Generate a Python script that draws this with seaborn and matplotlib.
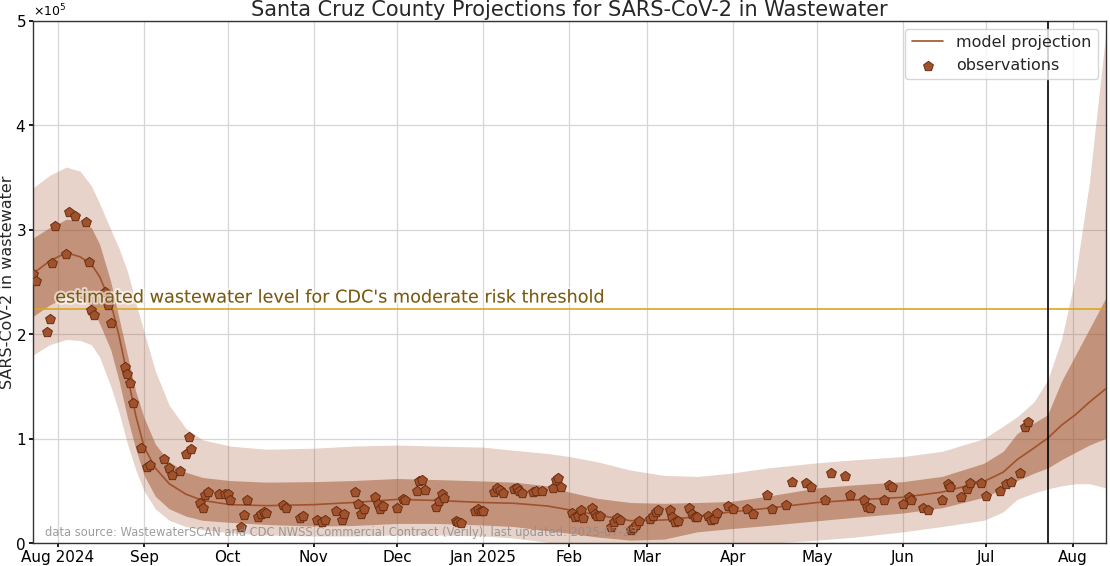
import numpy as np
import pandas as pd
import matplotlib
matplotlib.use("Agg")
import matplotlib.pyplot as plt
import matplotlib.patheffects as pe
import seaborn as sns

SCALE = 1e5

# ---- model projection knots (values in units of 1e5) ----
knot_dates = ["2024-07-23", "2024-07-29", "2024-08-04", "2024-08-09", "2024-08-13",
              "2024-08-16", "2024-08-20", "2024-08-23", "2024-08-26", "2024-08-29",
              "2024-09-01", "2024-09-05", "2024-09-10", "2024-09-16", "2024-09-22",
              "2024-10-02", "2024-10-15", "2024-11-01", "2024-11-15", "2024-12-01",
              "2024-12-15", "2025-01-01", "2025-01-12", "2025-01-24", "2025-02-01",
              "2025-02-11", "2025-02-23", "2025-03-07", "2025-03-19", "2025-03-31",
              "2025-04-13", "2025-05-01", "2025-05-15", "2025-06-01", "2025-06-15",
              "2025-06-30", "2025-07-07", "2025-07-12", "2025-07-18", "2025-07-23",
              "2025-07-28", "2025-08-02", "2025-08-07", "2025-08-13"]
model_mid = [2.58, 2.70, 2.78, 2.74, 2.67, 2.55, 2.30, 1.98, 1.60, 1.22,
             0.92, 0.72, 0.57, 0.47, 0.41, 0.37, 0.36, 0.37, 0.39, 0.42,
             0.41, 0.39, 0.383, 0.357, 0.32, 0.27, 0.216, 0.223, 0.255, 0.30,
             0.335, 0.39, 0.415, 0.44, 0.49, 0.59, 0.68, 0.80, 0.91, 1.005,
             1.13, 1.23, 1.35, 1.48]
model_lo50 = [2.17, 2.28, 2.36, 2.34, 2.27, 2.10, 1.85, 1.55, 1.20, 0.90,
              0.65, 0.45, 0.33, 0.26, 0.22, 0.20, 0.18, 0.165, 0.17, 0.19,
              0.19, 0.175, 0.16, 0.12, 0.096, 0.06, 0.03, 0.04, 0.11, 0.14,
              0.17, 0.215, 0.25, 0.29, 0.34, 0.44, 0.52, 0.60, 0.67, 0.72,
              0.80, 0.87, 0.94, 1.005]
model_hi50 = [2.92, 3.02, 3.10, 3.09, 3.02, 2.86, 2.50, 2.15, 1.80, 1.45,
              1.20, 0.95, 0.78, 0.68, 0.63, 0.60, 0.585, 0.59, 0.60, 0.62,
              0.61, 0.596, 0.585, 0.55, 0.49, 0.43, 0.39, 0.383, 0.39, 0.40,
              0.45, 0.53, 0.56, 0.59, 0.64, 0.765, 0.88, 1.05, 1.15, 1.23,
              1.55, 1.80, 2.05, 2.35]
model_lo95 = [1.80, 1.90, 1.95, 1.94, 1.90, 1.78, 1.50, 1.25, 0.95, 0.70,
              0.50, 0.33, 0.22, 0.16, 0.13, 0.10, 0.08, 0.07, 0.07, 0.08,
              0.08, 0.07, 0.05, 0.01, -0.03, -0.08, -0.12, -0.11, -0.07, -0.03,
              0.0, 0.03, 0.06, 0.11, 0.16, 0.22, 0.30, 0.42, 0.48, 0.52,
              0.55, 0.57, 0.57, 0.53]
model_hi95 = [3.40, 3.52, 3.60, 3.56, 3.42, 3.25, 3.00, 2.82, 2.60, 2.30,
              2.02, 1.65, 1.32, 1.10, 0.99, 0.93, 0.90, 0.91, 0.93, 0.94,
              0.93, 0.92, 0.89, 0.86, 0.83, 0.78, 0.70, 0.65, 0.64, 0.67,
              0.72, 0.77, 0.80, 0.83, 0.88, 1.00, 1.12, 1.21, 1.35, 1.56,
              1.95, 2.55, 3.45, 4.90]

# ---- observations (values in units of 1e5) ----
obs_dates = ["2024-07-23", "2024-07-24", "2024-07-28", "2024-07-29", "2024-07-30",
             "2024-07-31", "2024-08-04", "2024-08-05", "2024-08-07", "2024-08-11",
             "2024-08-12", "2024-08-13", "2024-08-14", "2024-08-18", "2024-08-19",
             "2024-08-20", "2024-08-25", "2024-08-26", "2024-08-27", "2024-08-28",
             "2024-08-31", "2024-09-02", "2024-09-03", "2024-09-08", "2024-09-10",
             "2024-09-11", "2024-09-14", "2024-09-16", "2024-09-17", "2024-09-18",
             "2024-09-21", "2024-09-22", "2024-09-23", "2024-09-24", "2024-09-28",
             "2024-09-30", "2024-10-01", "2024-10-02", "2024-10-06", "2024-10-07",
             "2024-10-08", "2024-10-12", "2024-10-13", "2024-10-14", "2024-10-15",
             "2024-10-21", "2024-10-22", "2024-10-27", "2024-10-28", "2024-11-02",
             "2024-11-04", "2024-11-05", "2024-11-09", "2024-11-11", "2024-11-12",
             "2024-11-16", "2024-11-17", "2024-11-18", "2024-11-19", "2024-11-23",
             "2024-11-24", "2024-11-25", "2024-11-26", "2024-12-01", "2024-12-03",
             "2024-12-04", "2024-12-08", "2024-12-09", "2024-12-10", "2024-12-11",
             "2024-12-15", "2024-12-16", "2024-12-17", "2024-12-18", "2024-12-22",
             "2024-12-23", "2024-12-24", "2024-12-29", "2024-12-30", "2024-12-31",
             "2025-01-01", "2025-01-05", "2025-01-06", "2025-01-07", "2025-01-08",
             "2025-01-12", "2025-01-13", "2025-01-14", "2025-01-15", "2025-01-19",
             "2025-01-20", "2025-01-22", "2025-01-26", "2025-01-27", "2025-01-28",
             "2025-01-29", "2025-02-02", "2025-02-03", "2025-02-04", "2025-02-05",
             "2025-02-06", "2025-02-09", "2025-02-10", "2025-02-11", "2025-02-12",
             "2025-02-16", "2025-02-17", "2025-02-18", "2025-02-19", "2025-02-23",
             "2025-02-24", "2025-02-25", "2025-02-26", "2025-03-02", "2025-03-03",
             "2025-03-04", "2025-03-05", "2025-03-09", "2025-03-10", "2025-03-11",
             "2025-03-12", "2025-03-16", "2025-03-17", "2025-03-18", "2025-03-19",
             "2025-03-23", "2025-03-24", "2025-03-25", "2025-03-26", "2025-03-30",
             "2025-04-01", "2025-04-06", "2025-04-08", "2025-04-13", "2025-04-15",
             "2025-04-20", "2025-04-22", "2025-04-27", "2025-04-29", "2025-05-04",
             "2025-05-06", "2025-05-11", "2025-05-13", "2025-05-18", "2025-05-19",
             "2025-05-20", "2025-05-25", "2025-05-27", "2025-05-28", "2025-06-01",
             "2025-06-03", "2025-06-04", "2025-06-08", "2025-06-10", "2025-06-15",
             "2025-06-17", "2025-06-18", "2025-06-22", "2025-06-24", "2025-06-25",
             "2025-06-29", "2025-07-01", "2025-07-06", "2025-07-08", "2025-07-10",
             "2025-07-13", "2025-07-15", "2025-07-16"]
obs_values = [2.58, 2.51, 2.02, 2.15, 2.68, 3.04, 2.77, 3.17, 3.13, 3.07,
              2.69, 2.23, 2.18, 2.40, 2.28, 2.11, 1.69, 1.62, 1.53, 1.34,
              0.91, 0.73, 0.75, 0.81, 0.72, 0.65, 0.69, 0.85, 1.02, 0.90,
              0.385, 0.34, 0.46, 0.49, 0.47, 0.47, 0.47, 0.41, 0.16, 0.27,
              0.41, 0.25, 0.28, 0.30, 0.29, 0.37, 0.34, 0.24, 0.26, 0.22,
              0.20, 0.22, 0.31, 0.22, 0.28, 0.49, 0.38, 0.28, 0.325, 0.446,
              0.376, 0.33, 0.357, 0.34, 0.42, 0.41, 0.50, 0.60, 0.61, 0.51,
              0.35, 0.40, 0.47, 0.43, 0.216, 0.207, 0.197, 0.31, 0.325, 0.31,
              0.306, 0.49, 0.53, 0.51, 0.48, 0.52, 0.526, 0.50, 0.48, 0.49,
              0.50, 0.50, 0.53, 0.606, 0.62, 0.536, 0.29, 0.25, 0.26, 0.32,
              0.245, 0.335, 0.28, 0.26, 0.264, 0.153, 0.207, 0.245, 0.22, 0.127,
              0.143, 0.172, 0.216, 0.23, 0.26, 0.30, 0.32, 0.32, 0.255, 0.207,
              0.21, 0.34, 0.28, 0.25, 0.25, 0.26, 0.22, 0.23, 0.287, 0.357,
              0.325, 0.33, 0.28, 0.46, 0.33, 0.366, 0.59, 0.574, 0.54, 0.414,
              0.67, 0.647, 0.46, 0.41, 0.345, 0.338, 0.414, 0.555, 0.54, 0.373,
              0.446, 0.414, 0.335, 0.32, 0.41, 0.565, 0.54, 0.446, 0.517, 0.58,
              0.58, 0.455, 0.50, 0.565, 0.59, 0.676, 1.116, 1.164]

threshold_value = 2.24
last_updated = "2025-07-23"
x_start, x_end = "2024-07-23", "2025-08-13"
tick_dates = ["2024-08-01", "2024-09-01", "2024-10-01", "2024-11-01", "2024-12-01",
              "2025-01-01", "2025-02-01", "2025-03-01", "2025-04-01", "2025-05-01",
              "2025-06-01", "2025-07-01", "2025-08-01"]
tick_labels = ["Aug 2024", "Sep", "Oct", "Nov", "Dec", "Jan 2025", "Feb", "Mar",
               "Apr", "May", "Jun", "Jul", "Aug"]

model = pd.DataFrame({
    "date": pd.to_datetime(knot_dates),
    "mid": np.array(model_mid) * SCALE,
    "lo50": np.array(model_lo50) * SCALE,
    "hi50": np.array(model_hi50) * SCALE,
    "lo95": np.array(model_lo95) * SCALE,
    "hi95": np.array(model_hi95) * SCALE,
})
obs = pd.DataFrame({"date": pd.to_datetime(obs_dates),
                    "value": np.array(obs_values) * SCALE})

sns.set_theme(style="ticks")
plt.rcParams["font.family"] = ["DejaVu Sans"]

BROWN = "#A0522D"
fig = plt.figure(figsize=(11.1, 5.66), dpi=100)
ax = fig.add_axes([0.0297, 0.0401, 0.9667, 0.9234])

ax.fill_between(model["date"], model["lo95"], model["hi95"], color=BROWN,
                alpha=0.25, linewidth=0, zorder=1)
ax.fill_between(model["date"], model["lo50"], model["hi50"], color=BROWN,
                alpha=0.5, linewidth=0, zorder=2)
sns.lineplot(data=model, x="date", y="mid", ax=ax, color=BROWN, linewidth=1.2,
             label="model projection", zorder=3)
sns.scatterplot(data=obs, x="date", y="value", ax=ax, marker="p", s=55,
                color=BROWN, edgecolor="#6a2c10", linewidth=0.7,
                label="observations", zorder=4)

ax.axhline(threshold_value * SCALE, color="#DAA520", linewidth=1.2, zorder=2.5)
ax.text(pd.Timestamp("2024-07-31"), threshold_value * SCALE + 0.025 * SCALE,
        "estimated wastewater level for CDC's moderate risk threshold",
        color="#7A5A10", fontsize=12.7, va="bottom", ha="left", zorder=5,
        path_effects=[pe.withStroke(linewidth=3, foreground="white", alpha=0.6)])
ax.axvline(pd.Timestamp(last_updated), color="black", linewidth=1.2, zorder=5)

ax.text(0.011, 0.0216,
        "data source: WastewaterSCAN and CDC NWSS Commercial Contract (Verily), "
        "last updated: " + last_updated,
        transform=ax.transAxes, fontsize=8.3, color="#8c8c8c", alpha=0.85,
        va="center", ha="left", zorder=6)

ax.set_xlim(pd.Timestamp(x_start), pd.Timestamp(x_end))
ax.set_ylim(0, 5 * SCALE)
ax.set_xticks(pd.to_datetime(tick_dates))
ax.set_xticklabels(tick_labels)
ax.ticklabel_format(axis="y", style="sci", scilimits=(0, 0), useMathText=True)
ax.yaxis.get_offset_text().set_fontsize(9)
ax.tick_params(axis="both", labelsize=11, colors="black", length=3, pad=2)
ax.grid(True, color="#d6d6d6", linewidth=0.9)
ax.set_axisbelow(True)
for s in ax.spines.values():
    s.set_color("#333333")
    s.set_linewidth(1.0)

ax.set_xlabel("")
ax.set_ylabel("SARS-CoV-2 in wastewater", fontsize=11.5, labelpad=0.5)
ax.set_title("Santa Cruz County Projections for SARS-CoV-2 in Wastewater",
             fontsize=15, pad=3)
leg = ax.legend(loc="upper right", fontsize=11.5, frameon=True, framealpha=0.8)

fig.savefig("out.png", dpi=100)
